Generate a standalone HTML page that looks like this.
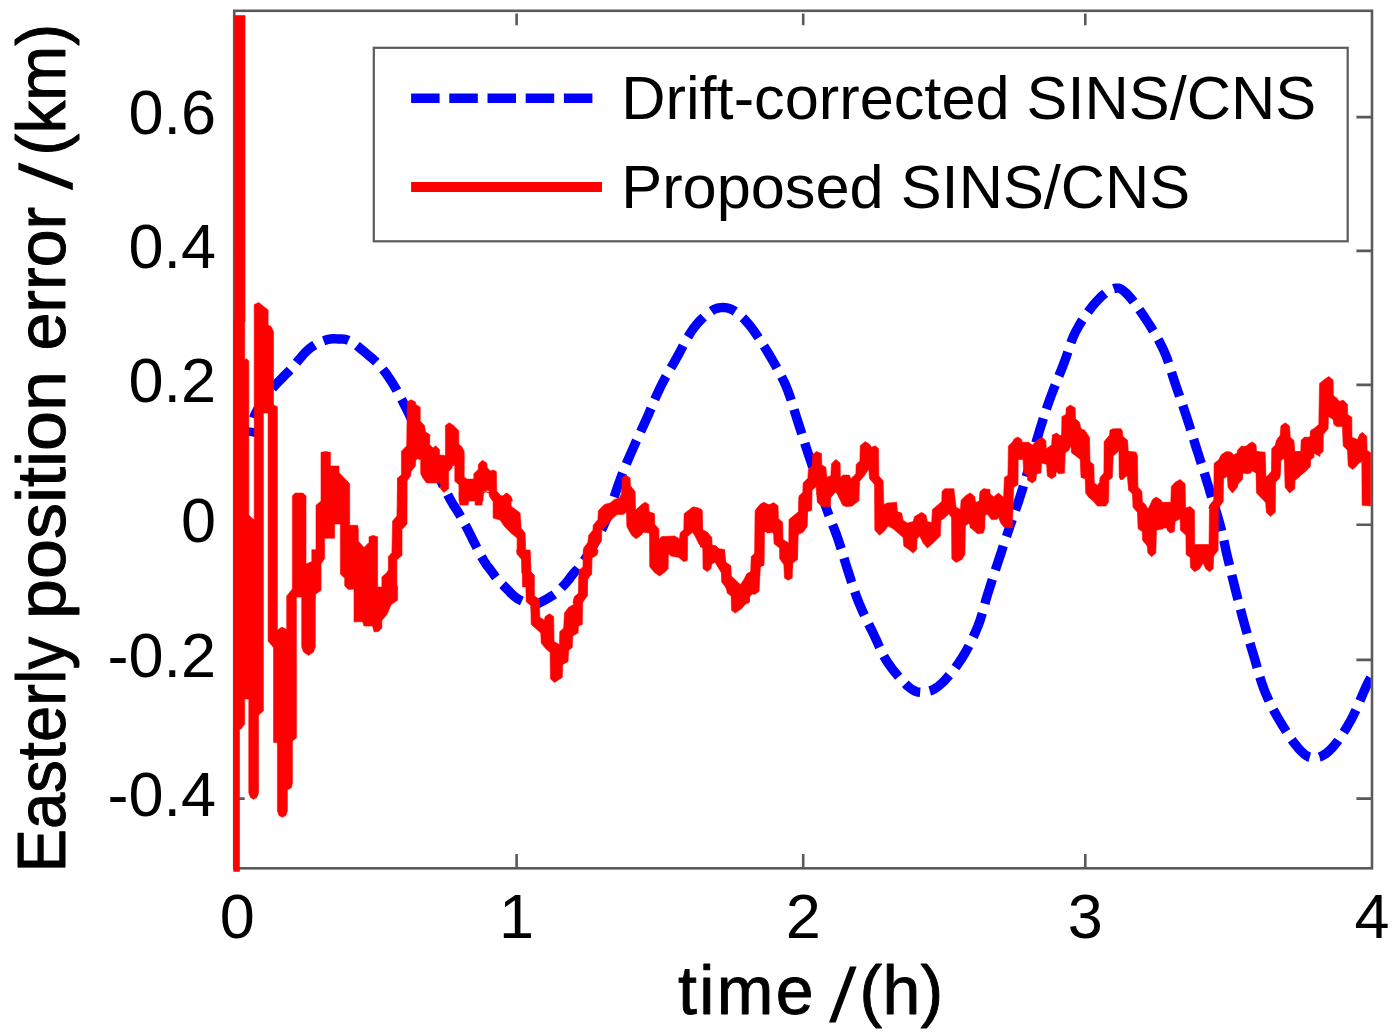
<!DOCTYPE html>
<html><head><meta charset="utf-8"><title>Easterly position error</title>
<style>
html,body{margin:0;padding:0;background:#fff;}
body{width:1400px;height:1034px;overflow:hidden;}
svg{display:block;filter:blur(0.5px);}
text{font-family:"Liberation Sans",sans-serif;fill:#000;}
</style></head><body>
<svg width="1400" height="1034" viewBox="0 0 1400 1034">
<rect x="0" y="0" width="1400" height="1034" fill="#fff"/>
<g stroke="#5a5a5a" stroke-width="2.6" fill="none" stroke-linecap="butt">
<rect x="234.2" y="10.8" width="1137.8" height="857.5"/>
<path d="M516.6 868.3 V854.0999999999999 M516.6 13.6 V25.3"/>
<path d="M803.2 868.3 V854.0999999999999 M803.2 13.6 V25.3"/>
<path d="M1085.3 868.3 V854.0999999999999 M1085.3 13.6 V25.3"/>
<path d="M234.2 117.1 H244.7 M1372.0 117.1 H1356.4"/>
<path d="M234.2 250.9 H244.7 M1372.0 250.9 H1356.4"/>
<path d="M234.2 384.9 H244.7 M1372.0 384.9 H1356.4"/>
<path d="M234.2 524.7 H244.7 M1372.0 524.7 H1356.4"/>
<path d="M234.2 659.9 H244.7 M1372.0 659.9 H1356.4"/>
<path d="M234.2 798.6 H244.7 M1372.0 798.6 H1356.4"/>
</g>
<clipPath id="pc"><rect x="228.2" y="10.8" width="1142.6" height="861.5"/></clipPath>
<g clip-path="url(#pc)">
<g fill="none" stroke="#0000ff" stroke-width="9.4" stroke-dasharray="25.5 9.8" stroke-linejoin="round">
<path d="M250 436L250.4 433.9 250.9 431 251.4 427.5 252.1 423.8 253 420.2 254 417 255.2 414.1 256.6 411.4 258.1 408.7 259.7 406.1 261.3 403.5 263 401 264.6 398.5 266.3 396.2 268 393.8 269.8 391.5 271.8 389.1 274 386.5 276.5 383.8 279.2 381 282.1 378.1 285 375.1 288 372.1 291 369 294 365.7 297 362.1 300 358.5 303 354.9 306 351.7 309 349 311.9 346.8 314.9 344.9 317.9 343.3 320.7 342 323.5 340.9 326 340 328.3 339.3 330.4 339 332.3 338.8 334.2 338.8 336.1 338.9 338 339 339.9 339 341.8 339 343.7 339.1 345.6 339.4 347.7 340 350 341 352.6 342.5 355.4 344.5 358.4 346.8 361.4 349.3 364.3 351.7 367 354 369.5 356.1 372 358.2 374.3 360.2 376.6 362.4 378.8 364.6 381 367 383.1 369.6 385.2 372.3 387.2 375.1 389.1 378 391.1 380.9 393 384 394.8 387 396.6 390 398.2 393 400 396.3 401.9 399.9 404 404 406.4 408.7 409 414 411.7 419.6 414.5 425.4 417.3 431.3 420 437 422.7 442.7 425.4 448.5 428.1 454.3 430.8 460.1 433.4 465.7 436 471 438.5 476.2 441 481.3 443.5 486.3 445.9 491 448 495.3 450 499 451.7 502 453 504.3 454.2 506.1 455.4 507.9 456.6 509.7 458 512 459.6 514.7 461.3 517.7 463 520.8 464.7 524 466.4 527.1 468 530 469.4 532.8 470.8 535.5 472.1 538.2 473.4 540.8 474.7 543.4 476 546 477.3 548.6 478.7 551.2 480 553.8 481.3 556.3 482.7 558.7 484 561 485.4 563.1 486.7 565.1 488.1 566.9 489.5 568.7 490.8 570.4 492 572 493.1 573.5 494.1 574.9 495 576.2 495.9 577.4 496.9 578.7 498 580 499.2 581.3 500.5 582.7 501.9 584 503.3 585.3 504.6 586.7 506 588 507.3 589.4 508.7 590.8 510 592.2 511.3 593.6 512.7 594.8 514 596 515.3 597 516.5 598 517.7 598.8 519 599.6 520.4 600.3 522 601 523.9 601.7 526.1 602.4 528.5 603 530.9 603.5 533.1 603.9 535 604 536.6 603.9 538.1 603.5 539.4 602.9 540.6 602.3 541.8 601.6 543 601 544.2 600.4 545.4 599.7 546.6 599.1 547.8 598.4 548.9 597.7 550 597 551 596.4 551.9 595.9 552.8 595.4 553.7 594.8 554.8 594 556 593 557.5 591.7 559.1 590.1 560.9 588.3 562.7 586.5 564.5 584.7 566 583 567.3 581.4 568.6 579.9 569.7 578.4 570.8 576.9 571.9 575.4 573 574 574.1 572.7 575.1 571.6 576.2 570.6 577.3 569.4 578.5 567.9 580 566 581.7 563.7 583.6 561.1 585.6 558.2 587.7 555.1 589.8 551.7 592 548 594.2 544.1 596.5 539.9 598.9 535.4 601.3 530.6 603.6 525.5 606 520 608.4 513.9 610.8 507.1 613.2 499.9 615.6 492.8 617.8 486.1 620 480 622 474.8 623.7 470.3 625.4 466.1 627.1 462 629 457.7 631 453 633.3 447.8 635.7 442.4 638.3 436.8 640.9 431.1 643.5 425.5 646 420 648.4 414.6 650.7 409.1 652.9 403.8 655.2 398.4 657.6 393.1 660 388 662.5 383 665.1 378.1 667.8 373.4 670.5 368.6 673.3 363.9 676 359 678.8 353.9 681.6 348.6 684.4 343.2 687.3 338.1 690.2 333.3 693 329 695.9 325.3 698.8 321.9 701.8 318.9 704.6 316.3 707.4 314 710 312 712.4 310.4 714.6 309.2 716.8 308.4 718.8 307.9 720.9 307.6 723 307.5 725.1 307.6 727.3 307.9 729.4 308.5 731.5 309.4 733.7 310.5 736 312 738.3 313.7 740.7 315.7 743.1 318 745.6 320.6 748.2 323.6 751 327 754 331 757.1 335.6 760.4 340.6 763.7 345.7 767 350.9 770 356 772.9 360.9 775.7 365.8 778.5 370.8 781.1 375.7 783.7 380.8 786 386 788.1 391.3 790.1 396.9 791.9 402.4 793.6 408 795.3 413.6 797 419 798.7 424.3 800.4 429.4 802 434.5 803.6 439.6 805.3 444.7 807 450 808.8 455.5 810.7 461.1 812.6 466.8 814.4 472.4 816.3 477.8 818 483" stroke-dashoffset="17"/>
<path d="M818 483L819.6 487.8 821.1 492.4 822.5 496.8 823.9 501.1 825.4 505.5 827 510 828.7 514.7 830.6 519.4 832.4 524.2 834.3 529 836.2 534 838 539 839.7 544.2 841.4 549.4 843 554.8 844.6 560.2 846.3 565.6 848 571 849.7 576.3 851.4 581.7 853.2 587 855 592.3 856.9 597.7 859 603 861.3 608.4 863.7 613.8 866.3 619.2 868.9 624.6 871.5 629.9 874 635 876.3 639.9 878.4 644.7 880.6 649.4 882.8 654 885.2 658.6 888 663 891.3 667.6 895 672.3 898.9 677 902.9 681.3 906.6 685.1 910 688 912.9 690 915.5 691.3 917.9 692.1 920.2 692.3" stroke-dashoffset="26.4"/>
<path d="M920.2 692.3L922.5 692.3 925 692 927.6 691.6 930.1 690.9 932.6 689.9 935.3 688.4 938 686.5 941 684 944.3 680.8 947.8 676.9 951.5 672.5 955.2 667.8 958.7 662.9 962 658 965 653 967.9 647.8 970.7 642.4 973.3 637 975.7 631.5 978 626 980 620.6 981.7 615.1 983.3 609.6 984.8 604.1 986.3 598.6 988 593 989.8 587.4 991.6 581.7 993.4 576 995.3 570.3 997.2 564.6 999 559 1000.9 553.4 1002.7 547.7 1004.6 542 1006.5 536.4 1008.3 531.1 1010 526" stroke-dashoffset="25.6"/>
<path d="M1010 526L1011.6 521.4 1013.1 517.2 1014.5 513.2 1015.9 509.1 1017.4 504.8 1019 500 1020.7 494.6 1022.6 488.7 1024.4 482.6 1026.3 476.3 1028.2 470.1 1030 464 1031.7 458.1 1033.4 452.2 1035 446.3 1036.6 440.5 1038.3 434.7 1040 429 1041.8 423.4 1043.5 417.9 1045.3 412.4 1047.1 406.9 1049 401.5 1051 396 1053.1 390.5 1055.2 385 1057.4 379.4 1059.7 373.9 1061.9 368.4 1064 363 1066 357.6 1067.8 352.1 1069.6 346.8 1071.4 341.4 1073.5 336.1 1076 331 1078.9 325.8 1082.1 320.5 1085.6 315.3 1089.2 310.4 1092.7 305.9 1096 302 1099.2 298.6 1102.3 295.6 1105.4 293.1 1108.4 291 1111.3 289.5 1114 288.5 1116.4 288.1 1118.4 288.1 1120.4 288.7 1122.3 289.9 1124.5 291.6 1127 294 1130 297.2 1133.3 301.3 1136.8 306 1140.3 311 1143.8 316.1 1147 321 1150.1 325.8 1153.1 330.7 1156.1 335.7 1158.9 340.7 1161.5 345.8 1164 351 1166.2 356.2 1168.1 361.5 1169.9 366.9 1171.6 372.3 1173.2 377.6 1175 383 1176.8 388.3 1178.7 393.7 1180.6 399 1182.4 404.3 1184.2 409.7 1186 415 1187.7 420.4 1189.5 425.9 1191.2 431.4 1192.9 436.9 1194.5 442.1 1196 447 1197.5 451.6 1198.9 455.9 1200.2 460.1 1201.5 464.1 1202.7 468 1204 472 1205.2 475.9 1206.3 479.6 1207.4 483.2 1208.6 486.9 1209.7 490.8 1211 495 1212.4 499.5 1213.9 504.3 1215.5 509.3 1217.1 514.4 1218.6 519.5 1220 524.5 1221.3 529.5 1222.4 534.5 1223.6 539.5 1224.7 544.6 1225.8 549.8 1227 555 1228.3 560.3 1229.6 565.8 1230.9 571.2 1232.2 576.8 1233.6 582.4 1235 588 1236.4 593.7 1237.9 599.4 1239.4 605.2 1240.9 611 1242.4 616.8 1244 622.5 1245.6 628.2 1247.2 633.9 1248.9 639.6 1250.6 645.3 1252.3 651 1254 656.7 1255.7 662.4 1257.3 668.2 1259 674 1260.7 679.8 1262.6 685.4 1264.6 690.8 1266.8 696 1269.1 701.1 1271.5 706 1274 710.9 1276.7 715.7 1279.5 720.5 1282.5 725.5 1285.8 730.7 1289.1 735.9 1292.5 740.8 1295.8 745.1 1298.8 748.7 1301.5 751.6 1304.1 753.9 1306.5 755.7 1308.9 757 1311.4 757.7 1314 758 1316.8 757.7 1319.6 757 1322.4 755.7 1325.4 753.9 1328.4 751.6 1331.4 748.7 1334.6 745.1 1337.9 740.9 1341.2 736.1 1344.5 730.9 1347.7 725.7 1350.7 720.5 1353.5 715.1 1356.3 709.1 1359 703.1 1361.5 697.2 1363.7 692 1365.6 687.8 1367.1 684.6 1368.3 682.2 1369.2 680.4 1370 679 1370.5 677.9 1371 677" stroke-dashoffset="18.6"/>
</g>
<path d="M397.6 501L397.6 478 401.4 474.8 401.4 451.2 406.7 445.8 407.3 401.8 411 399.7 415.3 401.8 415.9 404.5 420.2 407.2 420.2 421.1 424.5 425.4 425.5 431.9 429.8 434.6 429.8 444.8 433 448 435.7 445.8 439.5 449.6 439.5 455 445.4 455.5 445.4 425.4 449.1 422.7 452.9 424.9 458.8 430.8 458.8 444.2 462 446.9 464.2 451.7 464.2 477 466.9 479.1 473.8 479.1 473.8 473.8 478.1 469.5 478.5 464.1 482.4 460.3 486.7 463 487.3 467.8 490.5 471.1 493.2 470 496.4 471.6 496.7 490.9 500.7 495.8 503.4 495.8 507.1 493.1 510.9 496.3 512.5 501 512.5 501 492.6 501 489.4 496.3 488.9 493.1 486.2 491.5 483.5 493.1 483 501 459.4 501 458.8 484.5 454.8 481.3 454.8 466.2 454.5 465.2 452.4 465.7 451.8 468.4 448.6 471.6 448.6 488.8 443.8 492.5 440.6 488.8 440 482.3 435.7 482.9 426.6 482.9 422.8 478 420.7 473.8 420.7 459.8 417.5 458.7 415.9 459.8 415.3 466.2 411 471.6 410.5 475.9 406.7 481.3 406.7 501ZM459 492.1L497.1 492.1 502.1 497.1 506.1 493.1 511.1 497.1 511.1 506.1 520.1 513.1 521.1 528.1 525.1 533.1 525.7 550.1 530.1 552.1 531.1 572.1 534.1 575.1 534.1 586.9 522.5 586.9 522.1 560.1 517.1 554.1 517.1 538.1 512.1 534.1 504.1 526.1 500.1 520.1 493.1 518.1 493.1 497.1 488.1 490.1 482.1 492.1 482.1 505.1 475.1 505.1 475.1 500.1 469 500.1 468 505.1 460 505.1 459 500.1ZM530.1 550L530.4 571.5 534.1 575.1 534.4 595.8 539.4 599.4 539.8 617.3 544.4 620.2 545.1 616.6 549.4 613.7 553.7 616.6 554.1 641.6 559.4 644.5 559.8 631.6 563.7 628 564.4 613 568.7 607.3 573.7 604.4 574.2 598.7 578.7 592.9 579 570 583 567.2 583.3 550 598.1 550 598.1 550 597.4 554.3 591.9 557.2 591.6 574.3 587.6 577.2 587.3 595.8 582.7 600.1 582.3 624.4 578.5 625.9 578 633 572.7 635.9 572.3 647.4 568.7 650.2 568 661.7 562.7 664.5 562.3 677.4 554.4 682.4 550.4 678.8 550.1 652.4 545.8 648.8 541.2 643.1 540.8 633 531.2 624.4 530.8 605.8 526.1 601.5 525.8 577.9 521.8 572.9 521.5 557.9 517.2 554.3 516.5 550 530.1 550ZM572.9 603L574.3 596.7 578.6 593.2 578.9 576.7 583.2 571 583.6 548.1 587.9 542.3 588.6 535.2 592.9 530.2 593.2 525.2 597.9 519.4 598.3 510.8 604.4 504.4 610.1 503 614.4 499.4 619.4 497.9 621.5 493.7 622.3 477.9 625.8 475 630.1 477.9 630.4 485.8 635.1 491.5 635.6 510.1 641.6 504.4 645.2 502.2 648.7 504.4 649 511.5 654.5 513.7 654.8 524.4 658.8 528.7 659 539.5 661.6 536.6 674.5 535.9 679.5 538.8 680.2 533 683.8 529.4 684.1 513.7 688.8 510.1 693.1 506.8 698.8 508 702 511.5 702.4 529.4 707.4 532.3 711.7 537.3 712 545.2 716 545.9 718.9 548.8 724.6 549.5 725.3 562.4 730.3 565.2 731.1 576.7 736.1 581 740.4 584.6 743.9 579.6 746.8 573.8 751.1 571.7 751.5 556.6 754.7 553.8 755.1 511.5 759 505.8 764 503 770 505.1 770 533 766.1 530.9 764.4 532.3 764 565.2 760.4 566.7 759 591 753.2 592.4 749.7 596.7 749 603 732.1 603 731.8 596.7 727.5 591 722 581 721.8 571 716 560.9 711.7 562.4 711 568.1 707.4 571 703.4 568.1 703.1 548.1 698.8 543.8 694.6 535.2 692.4 532.3 687.7 536.6 687.4 560.2 683.8 561.7 678.8 557.4 670.9 555.9 668.4 553.8 668.1 568.8 664.5 572.4 659.5 576 654.5 572.4 649.7 566.7 649.5 533 643.7 532.3 640.2 535.9 635.9 538.8 631.6 535.2 626.8 526.6 626.5 512.3 623 514.4 617.2 514.4 612.9 518 605.8 526.6 601.8 529.4 601.5 540.9 597.2 546.6 596.5 555.2 591.8 558.1 591.5 573.8 587.6 579.6 587.2 596 582.2 603ZM700 508.6L702.1 510.1 702.6 531.5 707.2 533 711.5 537.3 711.7 545.1 715.7 545.9 718.6 549.4 724.3 550.2 725.8 562.3 730.8 565.9 731.2 575.9 735.8 580.2 740.8 585.9 745.1 580.2 747.2 573.8 750.8 571.6 751.3 556.6 755.1 553 755.5 510.1 760.1 504.3 763.7 502.2 768.7 505.1 773.7 502.6 778 505.8 778.5 518.7 782.7 522.2 783 539.4 788.8 543 789 519.4 793.8 515.8 798.8 512.2 799.1 495.7 803.1 492.2 803.4 484.3 807.4 480 859.2 480 859.2 480 858.9 500.8 851.8 505.8 843.2 505.8 841 501.5 837.4 494.3 835.3 491.5 830.6 497.2 830.3 505.8 821.7 505.8 817.4 502.2 816 485 812 488.6 811.7 510.1 807.4 510.8 806.7 527.2 803.1 532.3 798.1 534.4 797.4 559.5 792.6 563 792.3 578.1 788 580.2 784.5 578.1 783.8 564.5 779.7 558.7 779.5 548 774 543.7 773.7 534.4 772.3 532.3 767.3 533 764 530.1 763.7 564.5 759 567.3 758.7 591.7 754.4 594.5 749.8 593.1 749.4 601.7 745.1 604.6 741.5 608.8 735.1 613.1 731.5 610.3 731.2 596 727.2 593.1 726.5 587.4 721.8 582.4 721.5 573.1 717.2 565.9 715 562.3 711.2 564.5 710.7 568.8 707.2 571.6 703.1 568.8 702.9 548 700 546.6ZM790 518.8L794.3 515.2 798.6 511.6 798.9 497.3 802.9 493 803.2 483 807.9 478 808.3 469.4 812.2 465.8 812.6 454.4 816.5 451.5 821.5 453.6 821.8 465.1 825.8 467.2 826.9 477.3 830.8 475.8 831.5 463.7 835.8 459.4 840.1 462.9 840.4 477.3 843 475.1 849.4 475.1 850.8 478.7 855.9 473.7 856.1 464.4 859.9 460.8 860.2 445.8 865.2 441.5 869.5 444.3 871.6 447.2 875.2 445.8 878.5 448.6 878.8 475.8 883.1 480.8 883.8 504.5 887.4 503 896.7 502.3 897.4 511.6 901.7 513.1 903.1 520.2 907.4 523.1 913.1 521.6 914.6 516.6 921.7 512.3 926 515.2 927.4 521.6 931.7 522.4 932.4 509.5 937.5 505.2 941.8 501.6 942 491.6 944.6 488.7 953.9 488.7 956.1 507.3 960.4 509.5 961.1 500.2 966.1 495.2 970.4 493 974.7 496.6 975.4 502.3 979.7 501.6 980.1 491.6 983.3 488.7 990 489.4 990 515.2 985 511.6 984.7 528.8 983.3 533.1 977.5 533.8 971.8 528.8 969 523.1 965.4 525.9 964.9 554.6 961.8 559.6 956.1 562.4 951.8 558.9 951.5 517.4 948.9 513.8 945.3 517.4 941 520.2 940.3 536 933.2 543.1 927.4 548.1 923.1 543.1 919.6 536 917.1 538.8 916.7 549.6 913.1 553.1 908.8 549.6 903.8 546 903.1 537.4 893.1 528.8 888.1 525.9 884.5 531 879.5 535.2 874.8 530.2 874.5 484.4 869.5 478.7 868.7 468.7 864.4 475.8 859.4 481.6 858.7 500.2 852.3 505.9 845.8 506.6 842.3 504.5 838.7 495.9 835.8 491.6 830.4 498 830.1 506.6 822.2 506.6 817.5 502.3 817.2 485.9 811.8 490.2 811.5 510.2 807.5 511.6 807.2 525.9 802.9 531 797.9 533.1 797.4 559.4 792.6 563 792.6 568 790 568ZM970 493.1L974.3 497.4 975.7 503.1 979.3 501 980 492.4 984.3 488.8 988.6 492.4 993.6 496.7 998.6 493.1 1003.6 497.4 1004.4 477.4 1007.9 475.2 1008.4 445.9 1012.2 442.3 1014.4 438.7 1018 437 1021.5 439.4 1022.3 442.3 1028.7 442.3 1032.3 445.1 1038 439.4 1042.3 437.3 1045.9 440.8 1046.2 448.7 1051.6 445.1 1052.3 435.1 1056.6 433 1060.2 435.8 1061.6 434.4 1061.9 416.5 1065.9 414.4 1066.2 407.9 1070.2 405.1 1075.2 407.9 1075.5 418.7 1079.5 422.2 1081 428.7 1084.5 430.1 1089.5 437.3 1090 461.6 1093.8 464.5 1094.3 483.1 1097.4 485.2 1099.6 482.4 1100 477.4 1103.9 473.1 1104.1 441.6 1109.6 435.1 1110 430.1 1113.2 428.7 1121 428.7 1122.5 431.5 1122.9 436.5 1127.5 440.1 1128.2 451.6 1136.1 452.3 1137.5 455.9 1137.8 487.4 1141.8 491.7 1142.1 501.7 1145.4 504.6 1148.2 509.6 1151.8 504.6 1153.2 498.8 1156.8 497.4 1161.1 500.3 1162.6 503.1 1170 503.1 1170 528 1138.2 528 1137.5 511.7 1133.2 507.4 1132.5 493.1 1128.9 490.2 1128.6 474.5 1126.8 475.9 1122.5 478.8 1119.2 477.4 1118.9 450.2 1117.5 452.3 1113.2 455.9 1112.4 477.4 1108.9 480.2 1108.6 501.7 1106 506 1097.4 506 1093.1 501 1088.8 497.4 1085.7 493.1 1085.2 478.8 1081 477.4 1080.2 459.5 1075.9 455.9 1071.6 453 1070.9 445.9 1068.8 450.2 1065.2 453 1064.5 473.1 1058.8 473.8 1056.2 471.6 1055.9 475.9 1051.6 478.8 1047.3 475.9 1046.6 464.5 1041.6 463 1040.9 473.1 1036.6 473.8 1035.9 480.2 1032.3 483.1 1027.6 480.2 1027.3 475.2 1023.7 473.1 1023 459.5 1018.2 459.5 1018 484.5 1013.7 487.4 1012.2 528 1004.4 527.5 1000.8 523.2 998.6 517.4 996.5 519.6 991.5 519.6 987.2 513.9 984.6 516 984.3 528 970 528ZM1120 434.3L1124.3 438.6 1127.2 442.9 1127.9 451.5 1135.7 452.2 1137.9 487.3 1141.5 490.8 1142.2 501.6 1145.8 505.9 1147.9 509.5 1152.2 500.2 1155.8 497.3 1160.8 500.2 1161.5 502.3 1170.8 502.3 1171.3 486.5 1175.1 482.3 1180.1 479.4 1185.1 483.7 1185.6 508 1190.2 506.6 1194.4 510.2 1194.7 544.5 1209 544.5 1209.5 505.2 1213.8 500.2 1214.1 463.6 1218.8 460.1 1220.9 455.8 1225.9 452.2 1231 452.2 1233.8 455.1 1238.1 452.2 1239.5 448.6 1244.6 446.5 1248.8 445 1252.4 442.6 1256 445.7 1256.3 451.5 1264.6 452.2 1265.7 477.2 1268.9 474.4 1271.8 470.8 1272 448.6 1275.3 445 1277.5 438.6 1281.1 434.3 1281.5 430 1289.6 430 1289.9 438.6 1293.9 441.5 1294.4 451.5 1301.1 451.5 1301.5 440 1304.7 437.2 1310.4 437.2 1311.1 430 1320 430 1320 456.5 1314.7 453.6 1310.7 458.6 1310.4 466.5 1304.7 472.2 1299 476.5 1294.9 479.4 1294.7 488.7 1289.6 493 1285.4 487.3 1284.6 457.9 1280.3 460.8 1279.6 478 1275.6 482.3 1275.3 512.3 1270.3 516.6 1266.3 512.3 1266 503 1261.7 498 1256.7 493 1256 472.9 1251.7 470.8 1249.6 472.9 1242.7 471.5 1242.4 478.7 1237.7 483 1237.4 487.3 1232.4 493 1228.1 487.3 1227.4 474.4 1223.4 477.2 1223.1 501.6 1218.4 507.3 1218.1 550.3 1213.8 556 1213.1 568.9 1209.5 571.7 1205.9 568.9 1203 563.1 1199.5 568.9 1194.4 571.7 1190.4 567.4 1190.2 557.4 1186.1 554.6 1185.9 535.2 1180.4 530.2 1180.1 518.8 1175.1 521.6 1174.4 531.6 1170.1 533.1 1167.2 530.2 1166.5 525.9 1162.9 528.8 1156.5 530.2 1155.8 553.1 1151.5 556.7 1147.9 553.1 1147.2 546 1142.6 540.2 1142.2 531.6 1138.3 528.8 1137.9 513 1133.2 507.3 1132.9 494.4 1128.6 490.1 1127.2 475.1 1122.9 479.4 1120 479.4ZM1208.6 508L1211.5 503.2 1214.3 500.3 1214.6 463.1 1218.6 460.2 1221.5 454.5 1226.5 451.6 1230.8 452.3 1234.4 455.9 1237.2 455.2 1237.5 450.2 1241.5 445.9 1245.8 447.3 1248.7 443.8 1252.3 441.9 1255.8 444.5 1256.1 450.9 1260.1 452.3 1265.1 452.3 1265.9 478.8 1270.2 474.5 1271.6 471.7 1271.9 448.8 1275.9 445.2 1276.2 440.9 1280.2 435.9 1280.9 425.9 1285.2 422.7 1289.5 425.9 1290.2 437.3 1293.8 440.2 1294.5 451.6 1300.9 451.6 1301.2 440.2 1304.5 437.3 1308.1 438.5 1310.2 435.9 1310.5 430.9 1314.5 428 1318.8 424.4 1319.5 383.6 1324.6 379.3 1328.8 376.5 1333.1 380 1333.4 395.8 1336.7 397.9 1339.6 401.5 1343.2 400.1 1347.5 404.4 1347.7 414.4 1351.8 417.3 1352 437.3 1357.5 439.5 1359.6 434.4 1362.5 432.3 1366.8 436.6 1367.1 450.2 1371.1 453.1 1371.1 506 1362.1 505.3 1361.8 461.6 1358.9 463.1 1356 466.7 1352.5 469.5 1348.2 465.9 1347.5 450.2 1343.2 445.9 1342.4 426.6 1336.7 426.6 1333.9 424.4 1333.1 419.4 1328.4 416.5 1328.1 428.7 1323.4 434.4 1323.1 451.6 1318.8 455.2 1314.1 451.6 1313.8 457.4 1309.8 460.2 1309.5 464.5 1305.9 470.2 1301.6 473.8 1298.8 477.4 1294.8 480.3 1294.5 488.1 1289.5 492.4 1285.2 487.4 1284.5 458.8 1280.9 458.8 1280.2 476 1274.7 481.7 1274.4 508 1266.1 508 1265.9 501.7 1260.8 497.4 1256.8 493.1 1256.5 471 1251.5 470.2 1250.8 473.1 1247.2 473.8 1242.5 473.1 1242.2 479.5 1237.9 484.6 1235.8 488.1 1232.2 492.4 1228.3 487.4 1227.9 476 1223.2 478.8 1222.9 501.7 1218.6 508ZM234.7 15.4L245 15.4 245 322 234.7 322ZM233.6 320L244.7 320 244.7 724 241 729 239.5 729 239.5 871.4 233.6 871.4ZM244.5 360L246.6 358.7 248.8 361 248.8 699 244.5 699ZM248.8 515.3L254.5 520.3 258.5 520.3 258.5 793 256.8 797.5 253.6 799.3 250.5 797.5 248.8 793ZM254.2 712L254.2 304.6 258.8 302.6 268.1 310 268.1 413 263.4 413 263.4 711 258.5 715ZM268.1 325.1L271 326.5 273.5 331.5 273.5 405 277.4 406.7 277.4 742.6 273.5 742.6 273.5 647.6 268.1 641ZM277.4 630L282 627 287.4 630 287.4 811 285.8 815.5 282.4 817.3 279 815.5 277.4 811ZM286.7 596L292.4 588.9 296.4 588.9 296.4 738 292.4 741 292.4 783 291.5 787.5 289 789.3 287.4 789.3 286.7 741ZM292.4 496L295 493.1 303 493.1 306 496 306 597 292.4 597ZM301.7 566L315.3 560 315.3 647 313.5 652 308.5 655.4 303.5 652 301.7 647ZM311.8 600L311.8 549.7 316 549.7 316 505.3 321 501 321 452.3 325.7 451.6 330.4 452.3 330.4 466 339 466 339 472.4 349.7 483.8 349.7 525.3 357.6 525.3 358.3 529.6 358.3 541.1 364 547.5 369 542.5 369 536.8 373 535.4 377.6 536.8 377.6 587 381.9 587 381.9 576.9 386.9 572.6 388.3 569.7 388.3 556.8 391.9 552.5 392.6 521 396.9 516 397.6 478.1 407 478.1 407 523.9 402 529.6 402 555.4 396.9 559.7 396.9 586 397.6 586 397.6 600.3 391.2 604.6 386.9 614.6 381.9 620.4 381.9 628 378 631.8 374 631.8 372.6 626 364 626 362.6 621.8 354 621.8 354 589 348.3 589.6 344.7 586 344.7 578.3 340.4 574 340.4 524 334.6 524 334.6 538.2 324.6 538.2 324.6 558.3 321 564 321 590.3 315.3 594.6 315.3 600Z" fill="#ff0000" stroke="#ff0000" stroke-width="0.6" stroke-linejoin="round" fill-rule="nonzero"/>
</g>
<rect x="373.8" y="47.8" width="973.9000000000001" height="193.5" fill="#fff" stroke="#5a5a5a" stroke-width="2.2"/>
<path d="M411.1 98.2H593" stroke="#0000ff" stroke-width="9.6" stroke-dasharray="28.5 9.7" fill="none"/>
<path d="M411.1 186.9H602" stroke="#ff0000" stroke-width="10" fill="none"/>
<text x="621.3" y="119.1" font-size="61.3" letter-spacing="0.0" id="leg1">Drift-corrected SINS/CNS</text>
<text x="621.3" y="207.7" font-size="61.3" letter-spacing="0.0" id="leg2">Proposed SINS/CNS</text>
<text x="216.0" y="134.4" font-size="63" text-anchor="end" id="yt0">0.6</text>
<text x="216.0" y="268.2" font-size="63" text-anchor="end" id="yt1">0.4</text>
<text x="216.0" y="402.2" font-size="63" text-anchor="end" id="yt2">0.2</text>
<text x="216.0" y="542" font-size="63" text-anchor="end" id="yt3">0</text>
<text x="216.0" y="677.2" font-size="63" text-anchor="end" id="yt4">-0.2</text>
<text x="216.0" y="815.9" font-size="63" text-anchor="end" id="yt5">-0.4</text>
<text x="237.2" y="938.0" font-size="63" text-anchor="middle" id="xt0">0</text>
<text x="516.6" y="938.0" font-size="63" text-anchor="middle" id="xt1">1</text>
<text x="803.2" y="938.0" font-size="63" text-anchor="middle" id="xt2">2</text>
<text x="1085.3" y="938.0" font-size="63" text-anchor="middle" id="xt3">3</text>
<text x="1372" y="938.0" font-size="63" text-anchor="middle" id="xt4">4</text>
<g font-size="68" stroke="#000" stroke-width="0.9" stroke-linejoin="round"><text x="678.0" y="1013.9" letter-spacing="2.4" id="xl">time</text><text x="859.5" y="1013.9" letter-spacing="0.3" id="xl2">(h)</text></g>
<path d="M829.0 1022.6 L850.0 966.6 L856.6 966.6 L835.6 1022.6 Z" fill="#000" id="slash"/>
<g font-size="69" stroke="#000" stroke-width="1.0" stroke-linejoin="round"><text transform="translate(65.3 872.5) rotate(-90) scale(0.9451 1)" id="yl0">Easterly</text><text transform="translate(65.3 619.0) rotate(-90) scale(1.043 1)" id="yl1">position</text><text transform="translate(65.3 350.6) rotate(-90) scale(0.9881 1)" id="yl2">error</text><text transform="translate(65.3 155.4) rotate(-90) scale(0.9531 1)" id="yl3">(km)</text></g>
<path d="M18.4 162.6 L18.4 169.8 L72.8 190.2 L72.8 183 Z" fill="#000"/>
</svg>
</body></html>
